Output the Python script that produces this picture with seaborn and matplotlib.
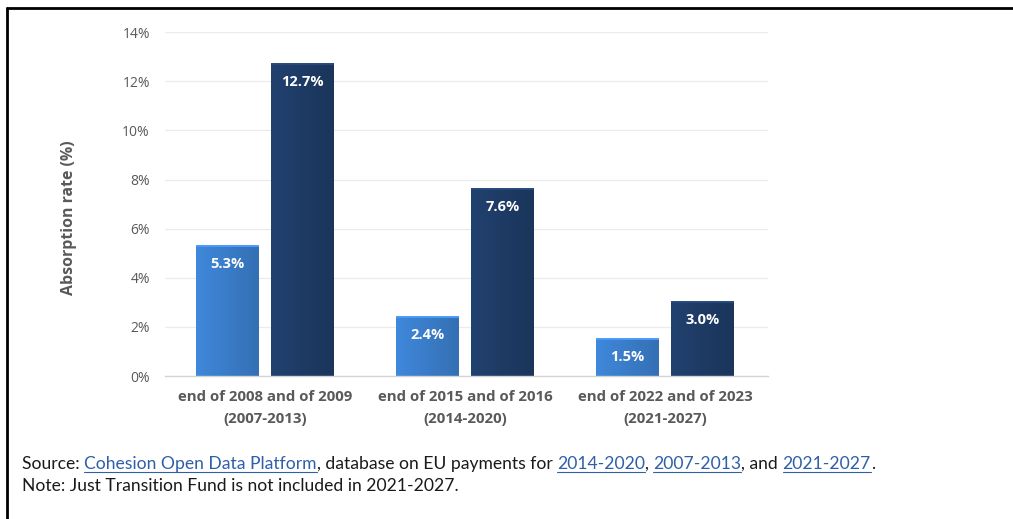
import matplotlib
matplotlib.use("Agg")
import matplotlib.pyplot as plt
from matplotlib.lines import Line2D
from matplotlib.colors import to_rgb
import numpy as np
import seaborn as sns
import pandas as pd

# Data
periods = ["end of 2008 and of 2009\n(2007-2013)",
           "end of 2015 and of 2016\n(2014-2020)",
           "end of 2022 and of 2023\n(2021-2027)"]
first_year = [5.3, 2.4, 1.5]
second_year = [12.7, 7.6, 3.0]
series_names = ["First year", "Second year"]
y_ticks = [0, 2, 4, 6, 8, 10, 12, 14]

df = pd.DataFrame({
    "period": periods * 2,
    "rate": first_year + second_year,
    "series": [series_names[0]] * 3 + [series_names[1]] * 3,
})

sns.set_theme(style="white")
plt.rcParams["font.family"] = ["Open Sans", "DejaVu Sans"]
plt.rcParams["font.stretch"] = "normal"
bold_font = dict(family=["Open Sans", "DejaVu Sans"], weight="bold", stretch="normal")

fig = plt.figure(figsize=(10.13, 5.19), dpi=100)
fig.patch.set_facecolor("white")
ax = fig.add_axes([0.163, 0.2755, 0.595, 0.6625])

palette = {series_names[0]: "#3a7cc8", series_names[1]: "#1e3b65"}
sns.barplot(data=df, x="period", y="rate", hue="series", palette=palette,
            width=0.75, gap=0.16, legend=False, ax=ax, saturation=1,
            edgecolor="none")

ax.set_ylim(0, 14)
ax.set_xlim(-0.5, 2.515)
ax.set_yticks(y_ticks)
ax.set_yticklabels([f"{t}%" for t in y_ticks], color="#595959", fontsize=10)
ax.tick_params(axis="y", length=0, pad=11)
ax.tick_params(axis="x", length=0, pad=10)
ax.set_xticks(range(len(periods)))
ax.set_xticklabels(periods, fontsize=10.8, color="#595959", linespacing=1.75,
                   **bold_font)

ax.yaxis.grid(True, color="#ebebeb", linewidth=0.9)
ax.set_axisbelow(True)
for s in ["top", "right", "left"]:
    ax.spines[s].set_visible(False)
ax.spines["bottom"].set_color("#d4d4d4")
ax.spines["bottom"].set_linewidth(1.0)

ax.set_xlabel("")
ax.set_ylabel("Absorption rate (%)", fontsize=11.4, color="#595959", **bold_font)
ax.yaxis.set_label_coords(-0.146, 0.46)

# Shade each bar with a soft left-to-right gradient and a light top rim
for patch in ax.patches:
    base = np.array(to_rgb(patch.get_facecolor()))
    x0, w, h = patch.get_x(), patch.get_width(), patch.get_height()
    t = np.linspace(0, 1, 64)
    shade = 1.1 - 0.2 * t
    grad = np.clip(base[None, :] * shade[:, None], 0, 1)[None, :, :]
    im = ax.imshow(grad, extent=[x0, x0 + w, 0, h], aspect="auto",
                   zorder=patch.get_zorder(), interpolation="bilinear")
    im.set_clip_path(patch)
    rim = np.clip(base * 1.25, 0, 1)
    ax.plot([x0, x0 + w], [h, h], color=rim, linewidth=1.4,
            solid_capstyle="butt", zorder=patch.get_zorder() + 0.1)
ax.set_xlim(-0.5, 2.515)
ax.set_ylim(0, 14)

# Value labels inside the top of each bar
for container in ax.containers:
    labels = [f"{v:.1f}%" for v in container.datavalues]
    ax.bar_label(container, labels=labels, padding=-18, color="white",
                 fontsize=10.5, zorder=5, **bold_font)

# Frame lines along top and left of the figure
fig.add_artist(Line2D([7 / 1013, 1], [1 - 8 / 519, 1 - 8 / 519],
                      transform=fig.transFigure, color="black", linewidth=2))
fig.add_artist(Line2D([7 / 1013, 7 / 1013], [0, 1 - 8 / 519],
                      transform=fig.transFigure, color="black", linewidth=2))

# Footer with source and note
foot_font = ["Lato", "DejaVu Sans"]
foot_size = 12.6
link_color = "#2e5fa8"
source_parts = [
    ("Source: ", False),
    ("Cohesion Open Data Platform", True),
    (", database on EU payments for ", False),
    ("2014-2020", True),
    (", ", False),
    ("2007-2013", True),
    (", and ", False),
    ("2021-2027", True),
    (".", False),
]

fig.canvas.draw()
renderer = fig.canvas.get_renderer()
x = 22 / 1013
y = 1 - 469 / 519
for text, link in source_parts:
    t = fig.text(x, y, text, fontsize=foot_size, family=foot_font,
                 color=link_color if link else "#1a1a1a", va="baseline")
    bb = t.get_window_extent(renderer=renderer).transformed(fig.transFigure.inverted())
    if link:
        fig.add_artist(Line2D([bb.x0, bb.x1], [y - 2.5 / 519, y - 2.5 / 519],
                              transform=fig.transFigure, color=link_color,
                              linewidth=0.8))
    x = bb.x1

fig.text(22 / 1013, 1 - 491 / 519, "Note: Just Transition Fund is not included in 2021-2027.",
         fontsize=foot_size, family=foot_font, color="#1a1a1a", va="baseline")

fig.savefig("out.png", dpi=100, facecolor="white")
